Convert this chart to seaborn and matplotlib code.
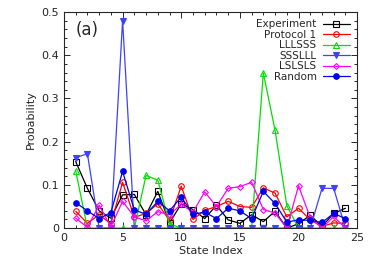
import numpy as np
import pandas as pd
import matplotlib
matplotlib.use("Agg")
import matplotlib.pyplot as plt
from matplotlib.ticker import MultipleLocator, FuncFormatter
import seaborn as sns

sns.set_style("ticks")
plt.rcParams['font.family'] = ['DejaVu Sans']

states = list(range(1, 25))

experiment = [0.154, 0.092, 0.040, 0.023, 0.077, 0.078, 0.031, 0.085, 0.012, 0.056, 0.043, 0.022,
              0.053, 0.019, 0.011, 0.031, 0.015, 0.039, 0.000, 0.010, 0.030, 0.004, 0.034, 0.046]
protocol1 = [0.039, 0.011, 0.031, 0.010, 0.106, 0.025, 0.034, 0.056, 0.018, 0.097, 0.020, 0.041,
             0.050, 0.062, 0.050, 0.048, 0.093, 0.081, 0.026, 0.046, 0.019, 0.004, 0.012, 0.011]
lllsss = [0.133, 0.000, 0.000, 0.000, 0.000, 0.000, 0.122, 0.111, 0.010, 0.000, 0.000, 0.000,
          0.000, 0.000, 0.000, 0.000, 0.359, 0.226, 0.052, 0.000, 0.000, 0.000, 0.000, 0.000]
sssllll = [0.163, 0.172, 0.000, 0.000, 0.480, 0.000, 0.000, 0.000, 0.000, 0.000, 0.000, 0.000,
           0.000, 0.000, 0.000, 0.000, 0.000, 0.000, 0.000, 0.000, 0.000, 0.092, 0.092, 0.000]
lslsls = [0.023, 0.002, 0.053, 0.003, 0.062, 0.026, 0.017, 0.038, 0.031, 0.055, 0.037, 0.084,
          0.050, 0.092, 0.096, 0.106, 0.043, 0.035, 0.000, 0.098, 0.024, 0.000, 0.027, 0.000]
random_ = [0.059, 0.040, 0.022, 0.036, 0.131, 0.042, 0.032, 0.062, 0.040, 0.072, 0.032, 0.037,
           0.022, 0.046, 0.040, 0.022, 0.085, 0.057, 0.014, 0.019, 0.018, 0.013, 0.034, 0.022]

series = [
    ("Experiment", experiment, "black", "s", "none"),
    ("Protocol 1", protocol1, "#ff0000", "o", "none"),
    ("LLLSSS", lllsss, "#00e000", "^", "none"),
    ("SSSLLL", sssllll, "#4040ff", "v", "full"),
    ("LSLSLS", lslsls, "#ff00ff", "D", "none"),
    ("Random", random_, "#0000ee", "o", "full"),
]

fig = plt.figure(figsize=(3.74, 2.61), dpi=100)
ax = fig.add_axes([0.171, 0.126, 0.784, 0.828])

for name, vals, color, marker, fill in series:
    df = pd.DataFrame({"state": states, "p": vals})
    sns.lineplot(data=df, x="state", y="p", ax=ax, color=color, marker=marker,
                 markersize=4 if marker != "D" else 3, linewidth=0.9,
                 markerfacecolor=(color if fill == "full" else "none"),
                 markeredgecolor=color, markeredgewidth=0.8, label=name)

ax.set_xlim(0, 25)
ax.set_ylim(0, 0.5)
ax.xaxis.set_major_locator(MultipleLocator(5))
ax.xaxis.set_minor_locator(MultipleLocator(1))
ax.yaxis.set_major_locator(MultipleLocator(0.1))
ax.yaxis.set_minor_locator(MultipleLocator(0.02))
ax.yaxis.set_major_formatter(FuncFormatter(lambda v, pos: "0" if abs(v) < 1e-9 else f"{v:.1f}"))
ax.tick_params(which="both", direction="in", top=True, right=True, labelsize=8, width=0.7)
ax.tick_params(which="major", length=4)
ax.tick_params(which="minor", length=2)
for s in ax.spines.values():
    s.set_linewidth(0.8)
ax.set_xlabel("State Index", fontsize=8, labelpad=2)
ax.set_ylabel("Probability", fontsize=8, labelpad=4)
ax.text(0.04, 0.96, "(a)", transform=ax.transAxes, fontsize=12, va="top", ha="left")

ax.legend(loc="upper right", markerfirst=False, frameon=False, fontsize=7.5,
          handlelength=2.6, labelspacing=0.05, borderaxespad=0.3, handletextpad=0.6)

fig.savefig("out.png", dpi=100)
